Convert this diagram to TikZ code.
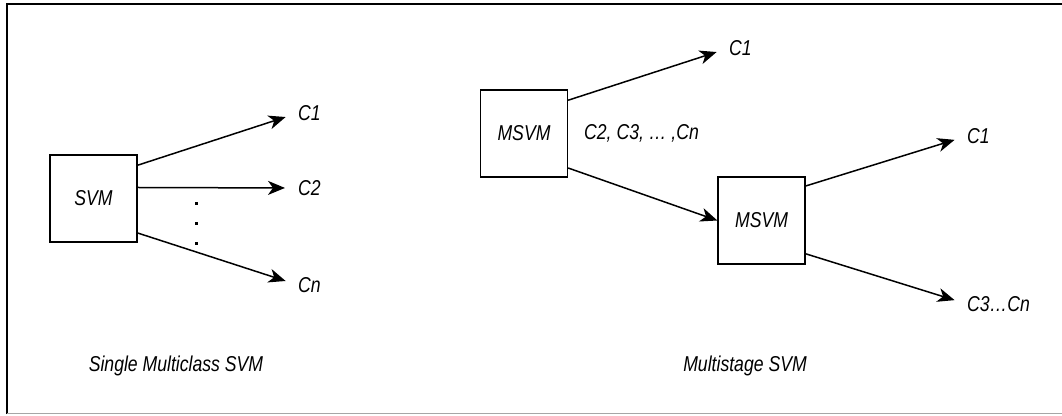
\documentclass[tikz,border=0pt]{standalone}
\usepackage{fontspec}
\setmainfont{Liberation Sans}[FakeStretch=0.82]
\usetikzlibrary{arrows.meta, positioning}

\begin{document}
\begin{tikzpicture}[x=1pt, y=-1pt,
    every node/.style={font=\fontsize{21.5}{24}\selectfont\itshape},
    svmbox/.style={draw, line width=1.3pt, minimum size=87pt, inner sep=0pt},
    cls/.style={anchor=west, inner sep=0pt},
    flow/.style={line width=1.5pt, -{Stealth[length=17pt, width=14pt, inset=5pt]}, shorten >=13pt}]
  \useasboundingbox (0,0) rectangle (1062,415);

  % Frame
  \draw[line width=2pt] (7,414) -- (7,4) -- (1062,4);
  \draw[gray!70, line width=1pt] (7,413.5) -- (1062,413.5);

  % Single multiclass SVM
  \node[svmbox] (svm) at (93.5,198.5) {SVM};
  \node[cls] (c1) at (298,113) {C1};
  \node[cls] (c2) at (298,188) {C2};
  \node[cls] (cn) at (298,285) {Cn};
  \draw[flow] (svm.37) -- (c1.west);
  \draw[flow] (svm.14) -- (c2.west);
  \draw[flow] (svm.-38) -- (cn.west);
  \foreach \y in {203,223,243}
    \fill (194.5,\y-1.5) rectangle ++(3.5,3.5);

  % Multistage SVM
  \node[svmbox] (msvmA) at (524,133.5) {MSVM};
  \node[svmbox] (msvmB) at (761.5,220.5) {MSVM};
  \node[cls] (topc1) at (729,48) {C1};
  \node[cls] (rest) at (584,133) {C2, C3, … ,Cn};
  \node[cls] (lowc1) at (967,136) {C1};
  \node[cls] (lowcn) at (967,304) {C3…Cn};
  \draw[flow] (msvmA.37) -- (topc1.west);
  \draw[flow, shorten >=0pt] (msvmA.-38) -- (msvmB.west);
  \draw[flow] (msvmB.38) -- (lowc1.west);
  \draw[flow] (msvmB.-37) -- (lowcn.west);

  % Captions
  \node (single) at (176,366) {Single Multiclass SVM};
  \node (multi) at (745,366) {Multistage SVM};
\end{tikzpicture}
\end{document}
